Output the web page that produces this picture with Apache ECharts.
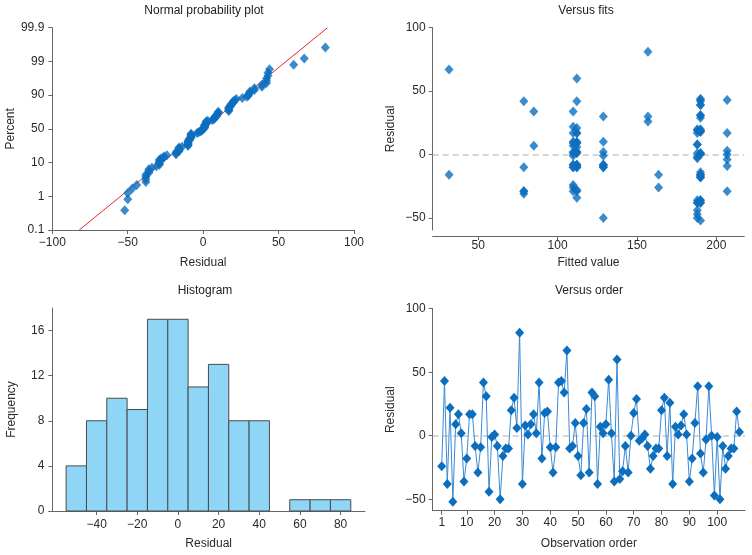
<!DOCTYPE html>
<html>
<head>
<meta charset="utf-8">
<script src="https://cdn.jsdelivr.net/npm/echarts@6/dist/echarts.min.js"></script>
<style>
html,body{margin:0;padding:0;background:#fff;}
#chart{width:752px;height:555px;}
</style>
</head>
<body>
<div id="chart"></div>
<script>
// ---------- data ----------
const residuals = [
  -24, 43, -38, 22, -52, 9, 17, 2, -36, -18,
  17, 17, -8, -29, -9, 42, 31, -44, -1, 1,
  -8, -50, -16, -10, -10, 20, 30, 6, 81, -38,
  8, 1, 9, 17, 2, 42, -18, 18, 19, -9,
  -29, -9, 42, 43, 34, 67, -10, -8, 10, -16,
  -31, 10, 21, -29, 34, 31, -38, 7, 2, 9,
  44, 2, -36, 60, -34, -28, -8, -29, 0, 18,
  29, -4, -2, 1, -8, -26, -16, -10, -10, 20,
  30, -16, 26, -38, 7, 1, 8, 17, 1, -36,
  -18, 10, 39, -14, -29, -3, 39, 0, -47, -1,
  -50, -8, -26, -16, -10, -10, 19, 3
];
const fittedValues = [
  109.8, 190, 190, 109.8, 190, 112.1, 112.1, 128.8, 190, 190,
  206.8, 109.8, 112.1, 78.7, 206.8, 78.7, 190, 188, 128.8, 190,
  128.8, 128.8, 31.6, 78.7, 112.1, 190, 156.9, 112.1, 156.9, 190,
  188, 190, 112.1, 188, 112.1, 112.1, 190, 190, 188, 112.1,
  206.8, 128.8, 190, 206.8, 85, 31.6, 128.8, 109.8, 109.8, 163.6,
  78.7, 112.1, 112.1, 78.7, 109.8, 190, 188, 109.8, 112.1, 109.8,
  190, 109.8, 190, 112.1, 112.1, 112.1, 109.8, 112.1, 206.8, 190,
  190, 206.8, 188, 188, 112.1, 109.8, 190, 109.8, 128.8, 188,
  128.8, 190, 156.9, 188, 85, 112.1, 188, 112.1, 109.8, 188,
  190, 128.8, 190, 190, 109.8, 188, 190, 190, 188, 109.8,
  188, 128.8, 163.6, 190, 112.1, 109.8, 190, 206.8
];
const histBinLefts = [-55, -45, -35, -25, -15, -5, 5, 15, 25, 35, 55, 65, 75];
const histCounts   = [4, 8, 10, 9, 17, 17, 11, 13, 8, 8, 1, 1, 1];
const histBinWidth = 10;
const percentTickLabels = ['0.1', '1', '10', '50', '90', '99', '99.9'];
const normXTicks = [-100, -50, 0, 50, 100];
const fitsXTicks = [50, 100, 150, 200];
const residTicks = [-50, 0, 50, 100];
const histXTicks = [-40, -20, 0, 20, 40, 60, 80];
const histYTicks = [0, 4, 8, 12, 16];
const orderXTicks = [1, 10, 20, 30, 40, 50, 60, 70, 80, 90, 100];

// ---------- helpers ----------
function invNorm(p){
  const a=[-3.969683028665376e+01,2.209460984245205e+02,-2.759285104469687e+02,1.383577518672690e+02,-3.066479806614716e+01,2.506628277459239e+00];
  const b=[-5.447609879822406e+01,1.615858368580409e+02,-1.556989798598866e+02,6.680131188771972e+01,-1.328068155288572e+01];
  const c=[-7.784894002430293e-03,-3.223964580411365e-01,-2.400758277161838e+00,-2.549732539343734e+00,4.374664141464968e+00,2.938163982698783e+00];
  const d=[7.784695709041462e-03,3.224671290700398e-01,2.445134137142996e+00,3.754408661907416e+00];
  const pl=0.02425, ph=1-pl; let q,r;
  if(p<pl){q=Math.sqrt(-2*Math.log(p));return (((((c[0]*q+c[1])*q+c[2])*q+c[3])*q+c[4])*q+c[5])/((((d[0]*q+d[1])*q+d[2])*q+d[3])*q+1);}
  if(p<=ph){q=p-0.5;r=q*q;return (((((a[0]*r+a[1])*r+a[2])*r+a[3])*r+a[4])*r+a[5])*q/(((((b[0]*r+b[1])*r+b[2])*r+b[3])*r+b[4])*r+1);}
  q=Math.sqrt(-2*Math.log(1-p));return -(((((c[0]*q+c[1])*q+c[2])*q+c[3])*q+c[4])*q+c[5])/((((d[0]*q+d[1])*q+d[2])*q+d[3])*q+1);
}
const n = residuals.length;
const sorted = residuals.slice().sort((x,y)=>x-y);
const probPoints = sorted.map((v,i)=>[v, invNorm((i+1-0.3)/(n+0.4))]);
const mean = residuals.reduce((s,v)=>s+v,0)/n;
const sd = Math.sqrt(residuals.reduce((s,v)=>s+(v-mean)*(v-mean),0)/(n-1));
const zMax = invNorm(0.999);
const zStep = 2*zMax/(percentTickLabels.length-1);
const zTickPos = percentTickLabels.map((_,k)=>-zMax + k*zStep);
const fitLine = [[mean - zMax*sd, -zMax], [mean + zMax*sd, zMax]];
const fitsPoints = residuals.map((r,i)=>[fittedValues[i], r]);
const orderPoints = residuals.map((r,i)=>[i+1, r]);
const histData = histBinLefts.map((l,i)=>[l, l+histBinWidth, histCounts[i]]);

const FONT = "'Liberation Sans', Arial, Helvetica, sans-serif";
const AX = '#666';
const TXT = '#2a2a2a';
const BLUE = '#0b6ebe';
const MSIZE = [9, 10];
const minus = v => String(v).replace('-', '\u2212');

function axis(o){
  const base = {
    type:'value',
    axisLine:{show:true, onZero:false, lineStyle:{color:AX, width:1}},
    axisTick:{show:true, length:4, lineStyle:{color:AX}},
    axisLabel:{color:TXT, fontSize:12, fontFamily:FONT, formatter:minus},
    splitLine:{show:false},
    nameLocation:'middle',
    nameTextStyle:{color:TXT, fontSize:12, fontFamily:FONT}
  };
  const r = Object.assign({}, base, o);
  r.axisTick = Object.assign({}, base.axisTick, o.axisTick||{});
  r.axisLabel = Object.assign({}, base.axisLabel, o.axisLabel||{});
  return r;
}
function titleAt(text, x, y){
  return {text, left:x, top:y, textAlign:'center', padding:0,
    textStyle:{fontSize:12, fontWeight:'normal', color:'#222', fontFamily:FONT}};
}

const chart = echarts.init(document.getElementById('chart'));
chart.setOption({
  animation:false,
  backgroundColor:'#fff',
  title:[
    titleAt('Normal probability plot', 204, 5),
    titleAt('Versus fits', 586, 5),
    titleAt('Histogram', 205, 285),
    titleAt('Versus order', 589, 285)
  ],
  grid:[
    {left:52.3, top:27.7, width:301.7, height:202.3},
    {left:432.7, top:27.7, width:311.6, height:202.3},
    {left:52.3, top:308, width:312.7, height:203},
    {left:432.7, top:308.7, width:312.3, height:202}
  ],
  xAxis:[
    axis({gridIndex:0, min:-100, max:100, name:'Residual', nameGap:27,
      axisTick:{customValues:normXTicks}, axisLabel:{customValues:normXTicks, margin:7}}),
    axis({gridIndex:1, min:21.3, max:217.6, offset:6, name:'Fitted value', nameGap:21,
      axisTick:{customValues:fitsXTicks}, axisLabel:{customValues:fitsXTicks, margin:4}}),
    axis({gridIndex:2, min:-61.8, max:92, name:'Residual', nameGap:27,
      axisTick:{customValues:histXTicks}, axisLabel:{customValues:histXTicks, margin:8}}),
    axis({gridIndex:3, min:-2.24, max:110, name:'Observation order', nameGap:27,
      axisTick:{customValues:orderXTicks}, axisLabel:{customValues:orderXTicks, margin:6}})
  ],
  yAxis:[
    axis({gridIndex:0, min:-zMax, max:zMax, name:'Percent', nameGap:35,
      axisTick:{customValues:zTickPos},
      axisLabel:{customValues:zTickPos, margin:8,
        formatter:v=>percentTickLabels[Math.round((v+zMax)/zStep)]}}),
    axis({gridIndex:1, min:-59.5, max:100, name:'Residual', nameGap:36,
      axisTick:{customValues:residTicks}, axisLabel:{customValues:residTicks, margin:7}}),
    axis({gridIndex:2, min:0, max:18, name:'Frequency', nameGap:35,
      axisTick:{customValues:histYTicks}, axisLabel:{customValues:histYTicks, margin:8}}),
    axis({gridIndex:3, min:-59, max:100, name:'Residual', nameGap:36,
      axisTick:{customValues:residTicks}, axisLabel:{customValues:residTicks, margin:7}})
  ],
  series:[
    {type:'line', xAxisIndex:0, yAxisIndex:0, data:fitLine, showSymbol:false, symbol:'none',
      lineStyle:{color:'#e8272b', width:1}, z:1, silent:true},
    {type:'scatter', xAxisIndex:0, yAxisIndex:0, data:probPoints, symbol:'diamond', symbolSize:MSIZE,
      itemStyle:{color:BLUE}, z:2},
    {type:'scatter', xAxisIndex:1, yAxisIndex:1, data:fitsPoints, symbol:'diamond', symbolSize:MSIZE,
      itemStyle:{color:BLUE}, z:3,
      markLine:{silent:true, symbol:'none', label:{show:false},
        lineStyle:{color:'#c8c8c8', type:[6,4], width:1.5}, data:[{yAxis:0}], z:1}},
    {type:'custom', xAxisIndex:2, yAxisIndex:2, data:histData,
      renderItem:function(params, api){
        const p0 = api.coord([api.value(0), api.value(2)]);
        const p1 = api.coord([api.value(1), 0]);
        return {type:'rect', shape:{x:p0[0], y:p0[1], width:p1[0]-p0[0], height:p1[1]-p0[1]},
          style:{fill:'#8fd6f6', stroke:'#4a4a4a', lineWidth:1}};
      }},
    {type:'line', xAxisIndex:3, yAxisIndex:3, data:orderPoints, symbol:'diamond', symbolSize:MSIZE,
      showAllSymbol:true,
      itemStyle:{color:BLUE}, lineStyle:{color:'#3a8ad6', width:1},
      markLine:{silent:true, symbol:'none', label:{show:false},
        lineStyle:{color:'#c8c8c8', type:[6,4], width:1.5}, data:[{yAxis:0}], z:1}}
  ]
});
</script>
</body>
</html>
